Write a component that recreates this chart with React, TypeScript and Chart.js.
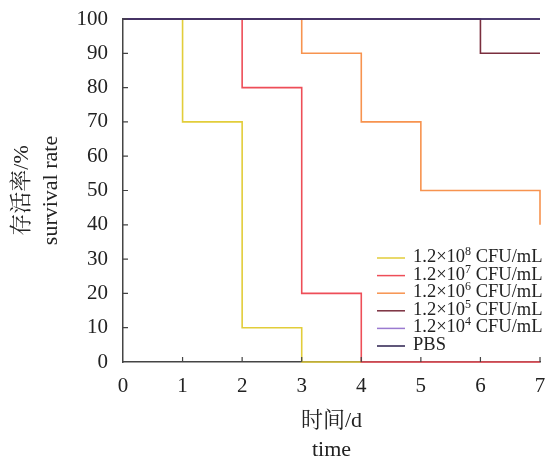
import React, { useEffect, useRef } from "react";
import { Chart, registerables } from "chart.js";

Chart.register(...registerables);

const seriesLabels = [
  "1.2×10⁸ CFU/mL",
  "1.2×10⁷ CFU/mL",
  "1.2×10⁶ CFU/mL",
  "1.2×10⁵ CFU/mL",
  "1.2×10⁴ CFU/mL",
  "PBS",
];
const seriesColors = ["#e2cd3a", "#ee4e58", "#f7934f", "#7a2e3e", "#9a7ad0", "#2b1f4e"];

const days8 = [0, 1, 2, 3, 4];
const surv8 = [100, 70, 10, 0, 0];
const days7 = [0, 2, 3, 4, 7];
const surv7 = [100, 80, 20, 0, 0];
const days6 = [0, 3, 4, 5, 7];
const surv6 = [100, 90, 70, 50, 40];
const days5 = [0, 6, 7];
const surv5 = [100, 90, 90];
const days4 = [0, 7];
const surv4 = [100, 100];
const daysPBS = [0, 7];
const survPBS = [100, 100];

const xTicks = [0, 1, 2, 3, 4, 5, 6, 7];
const yTicks = [0, 10, 20, 30, 40, 50, 60, 70, 80, 90, 100];

const xTitle = ["时间/d", "time"];
const yTitle = ["存活率/%", "survival rate"];

const allDays = [days8, days7, days6, days5, days4, daysPBS];
const allSurv = [surv8, surv7, surv6, surv5, surv4, survPBS];

const FONT = "'Liberation Serif', 'Noto Serif CJK SC', 'Noto Sans CJK SC', serif";
const TEXT = "#222";

const SUP = "⁰¹²³⁴⁵⁶⁷⁸⁹";

const inwardTicks = {
  id: "inwardTicks",
  afterDatasetsDraw(chart: any) {
    const ctx = chart.ctx;
    const x = chart.scales.x;
    const y = chart.scales.y;
    const a = chart.chartArea;
    ctx.save();
    ctx.strokeStyle = "#444";
    ctx.lineWidth = 1.2;
    ctx.beginPath();
    xTicks.forEach((t) => {
      if (t === xTicks[0]) return;
      const px = x.getPixelForValue(t);
      ctx.moveTo(px, a.bottom);
      ctx.lineTo(px, a.bottom - 5);
    });
    yTicks.forEach((t) => {
      if (t === yTicks[0]) return;
      const py = y.getPixelForValue(t);
      ctx.moveTo(a.left, py);
      ctx.lineTo(a.left + 5, py);
    });
    ctx.stroke();
    ctx.restore();
  },
};

const customLegend = {
  id: "customLegend",
  afterDraw(chart: any) {
    const ctx = chart.ctx;
    const a = chart.chartArea;
    const lineX0 = a.right - 163;
    const lineX1 = lineX0 + 28;
    const textX = lineX1 + 8;
    const base0 = a.bottom - 100;
    const step = 17.6;
    ctx.save();
    ctx.textBaseline = "alphabetic";
    ctx.textAlign = "left";
    seriesLabels.forEach((label, i) => {
      const by = base0 + i * step;
      ctx.strokeStyle = seriesColors[i];
      ctx.lineWidth = 1.5;
      ctx.beginPath();
      ctx.moveTo(lineX0, by - 4);
      ctx.lineTo(lineX1, by - 4);
      ctx.stroke();
      ctx.fillStyle = TEXT;
      let cx = textX;
      for (const ch of label) {
        const si = SUP.indexOf(ch);
        if (si >= 0) {
          ctx.font = `12px ${FONT}`;
          ctx.fillText(String(si), cx, by - 7);
          cx += ctx.measureText(String(si)).width;
        } else {
          ctx.font = `18.5px ${FONT}`;
          ctx.fillText(ch, cx, by);
          cx += ctx.measureText(ch).width;
        }
      }
    });
    ctx.restore();
  },
};

export default function App() {
  const ref = useRef<HTMLCanvasElement>(null);
  useEffect(() => {
    if (!ref.current) return;
    const datasets = seriesLabels.map((label, i) => ({
      label,
      data: allDays[i].map((d, j) => ({ x: d, y: allSurv[i][j] })),
      borderColor: seriesColors[i],
      backgroundColor: seriesColors[i],
      borderWidth: 1.6,
      pointRadius: 0,
      stepped: "before" as const,
      fill: false,
      clip: 4,
      order: seriesLabels.length - i,
    }));
    const chart = new Chart(ref.current, {
      type: "line",
      data: { datasets },
      options: {
        animation: false,
        responsive: false,
        maintainAspectRatio: false,
        layout: { padding: { left: 0, top: 19, right: 11, bottom: 0 } },
        plugins: {
          legend: { display: false },
          tooltip: { enabled: false },
        },
        scales: {
          x: {
            type: "linear",
            min: 0,
            max: 7,
            afterFit: (s: any) => {
              s.height = 100;
              s.paddingLeft = 0;
              s.paddingRight = 0;
            },
            afterBuildTicks: (s: any) => {
              s.ticks = xTicks.map((v) => ({ value: v }));
            },
            grid: { display: false, drawTicks: false },
            border: { display: true, color: "#444", width: 1.5 },
            ticks: {
              padding: 12,
              color: TEXT,
              font: { family: FONT, size: 21 },
              maxRotation: 0,
            },
            title: {
              display: true,
              text: xTitle,
              color: TEXT,
              font: { family: FONT, size: 22, lineHeight: 1.33 },
              padding: { top: 0, bottom: -3 },
            },
          },
          y: {
            type: "linear",
            min: 0,
            max: 100,
            afterFit: (s: any) => {
              s.width = 123;
              s.paddingTop = 0;
              s.paddingBottom = 0;
            },
            afterBuildTicks: (s: any) => {
              s.ticks = yTicks.map((v) => ({ value: v }));
            },
            grid: { display: false, drawTicks: false },
            border: { display: true, color: "#444", width: 1.5 },
            ticks: {
              padding: 15,
              color: TEXT,
              font: { family: FONT, size: 21 },
            },
            title: {
              display: true,
              text: yTitle,
              color: TEXT,
              font: { family: FONT, size: 22, lineHeight: 1.35 },
              padding: { top: 7, bottom: 0 },
            },
          },
        },
      },
      plugins: [inwardTicks, customLegend],
    });
    return () => chart.destroy();
  }, []);
  return (
    <div style={{ position: "absolute", left: 0, top: 0, width: 551, height: 462, background: "#fff" }}>
      <canvas ref={ref} width={551} height={462} style={{ width: 551, height: 462 }} />
    </div>
  );
}
